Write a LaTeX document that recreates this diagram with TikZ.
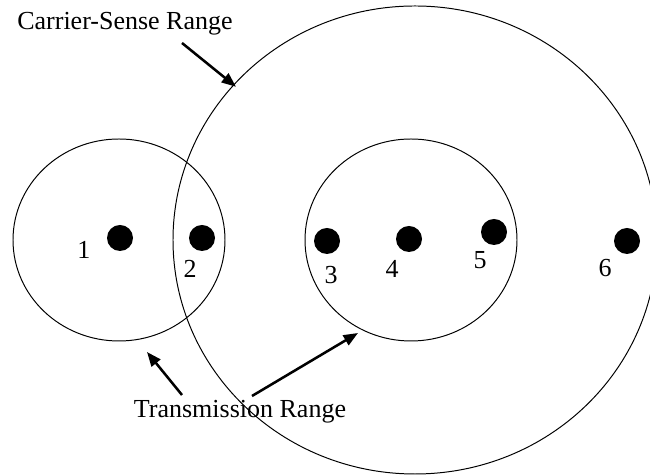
\documentclass[tikz,border=0pt]{standalone}
\usepackage{fontspec}
\setmainfont{Liberation Serif}
\usetikzlibrary{arrows.meta}

\begin{document}
\begin{tikzpicture}[line width=0.7pt,>={Triangle[length=3.6mm,width=2.8mm]},
  station/.style={circle,fill=black,inner sep=0pt,minimum size=6.5mm},
  lbl/.style={font=\fontsize{18.5}{22}\selectfont},
  pointer/.style={->,line width=1.8pt}]
  \useasboundingbox (0,0) rectangle (16.25,11.9);
  % ranges
  \draw (10.375,5.9) ellipse (6.05 and 5.85);
  \draw (2.975,5.9) ellipse (2.65 and 2.525);
  \draw (10.275,5.9) ellipse (2.65 and 2.525);
  % stations
  \node[station] (s1) at (3.0,5.95){};
  \node[station] (s2) at (5.05,5.95){};
  \node[station] (s3) at (8.175,5.875){};
  \node[station] (s4) at (10.225,5.925){};
  \node[station] (s5) at (12.35,6.1){};
  \node[station] (s6) at (15.675,5.875){};
  \node[lbl] (n1) at (2.1,5.65){1};
  \node[lbl] (n2) at (4.75,5.175){2};
  \node[lbl] (n3) at (8.275,5.025){3};
  \node[lbl] (n4) at (9.8,5.175){4};
  \node[lbl] (n5) at (12.0,5.4){5};
  \node[lbl] (n6) at (15.125,5.2){6};
  % labels
  \node[lbl] (csr) at (3.125,11.3){Carrier-Sense Range};
  \node[lbl] (txr) at (6.0,1.6){Transmission Range};
  % arrows
  \coordinate (cstail) at (4.55,10.825); \coordinate (cshead) at (5.9,9.73);
  \coordinate (txtaila) at (4.55,2.025); \coordinate (txheada) at (3.675,3.1);
  \coordinate (txtailb) at (6.3,2.0); \coordinate (txheadb) at (8.95,3.575);
  \draw[pointer] (cstail)--(cshead);
  \draw[pointer] (txtaila)--(txheada);
  \draw[pointer] (txtailb)--(txheadb);
\end{tikzpicture}
\end{document}
